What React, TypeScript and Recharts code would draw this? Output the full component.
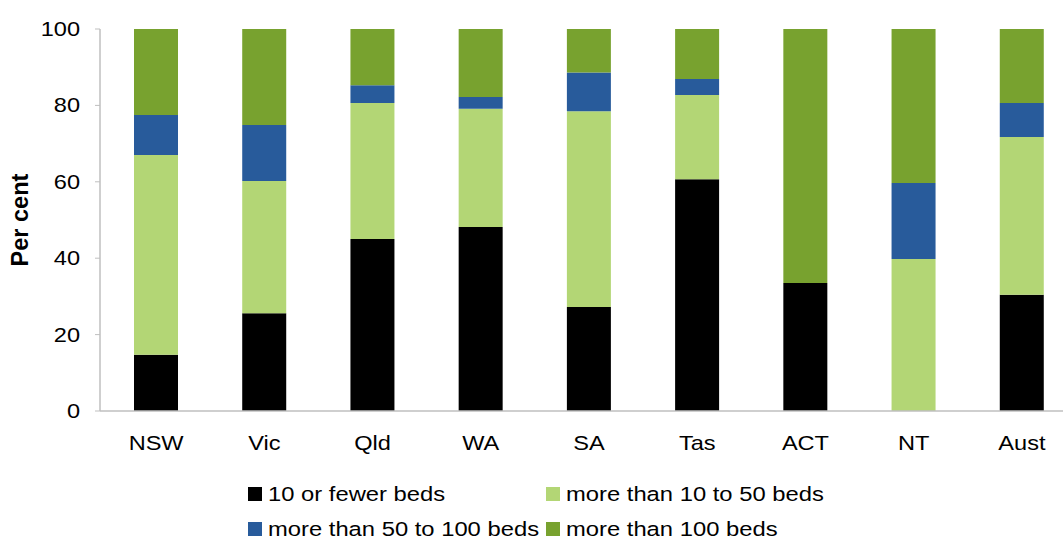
import { BarChart, Bar, XAxis, YAxis, Legend } from 'recharts'

const states = ['NSW', 'Vic', 'Qld', 'WA', 'SA', 'Tas', 'ACT', 'NT', 'Aust']
const tenOrFewer = [14.7, 25.6, 45.0, 48.2, 27.2, 60.7, 33.5, 0, 30.4]
const tenTo50 = [52.3, 34.6, 35.6, 30.9, 51.3, 22.0, 0, 39.8, 41.3]
const fiftyTo100 = [10.5, 14.7, 4.7, 3.1, 10.1, 4.2, 0, 19.9, 8.9]
const over100 = [22.5, 25.1, 14.7, 17.8, 11.4, 13.1, 66.5, 40.3, 19.4]
const yTicks = [0, 20, 40, 60, 80, 100]

const series = [
  { key: 'a', name: '10 or fewer beds', color: '#000000' },
  { key: 'b', name: 'more than 10 to 50 beds', color: '#B3D675' },
  { key: 'c', name: 'more than 50 to 100 beds', color: '#285B9B' },
  { key: 'd', name: 'more than 100 beds', color: '#78A22F' },
]

const data = states.map((s, i) => ({
  state: s,
  a: tenOrFewer[i],
  b: tenTo50[i],
  c: fiftyTo100[i],
  d: over100[i],
}))

const font = '"Liberation Sans", Arial, sans-serif'

// text in the source is a bit wider than Arial, stretch it slightly
const XTick = ({ x, y, payload }: any) => (
  <text transform={`translate(${x} ${y}) scale(1.15 1)`} textAnchor="middle"
    fontFamily={font} fontSize={20.5} fill="#000">
    {payload.value}
  </text>
)

const YTick = ({ x, y, payload }: any) => (
  <text transform={`translate(${x} ${y}) scale(1.15 1)`} textAnchor="end" dy={7}
    fontFamily={font} fontSize={20.5} fill="#000">
    {payload.value}
  </text>
)

const LegendItem = ({ name, color }: { name: string; color: string }) => (
  <div style={{ display: 'flex', alignItems: 'center', width: 298, whiteSpace: 'nowrap' }}>
    <span style={{ display: 'inline-block', width: 14, height: 14, background: color, marginRight: 6 }} />
    <span style={{ display: 'inline-block', transform: 'scaleX(1.16)', transformOrigin: 'left center' }}>{name}</span>
  </div>
)

const CustomLegend = () => (
  <div style={{ fontFamily: font, fontSize: 20.5, color: '#000', paddingLeft: 248, paddingTop: 28, height: 93, boxSizing: 'border-box' }}>
    <div style={{ display: 'flex', height: 30 }}>
      <LegendItem name={series[0].name} color={series[0].color} />
      <LegendItem name={series[1].name} color={series[1].color} />
    </div>
    <div style={{ display: 'flex', height: 30, marginTop: 5 }}>
      <LegendItem name={series[2].name} color={series[2].color} />
      <LegendItem name={series[3].name} color={series[3].color} />
    </div>
  </div>
)

const YLabel = ({ viewBox }: any) => {
  const x = viewBox.x + 19.5
  const y = viewBox.y + viewBox.height / 2
  return (
    <text x={x} y={y} transform={`rotate(-90 ${x} ${y})`} textAnchor="middle" dominantBaseline="central"
      fontFamily={font} fontSize={23.5} fontWeight="bold" fill="#000">
      Per cent
    </text>
  )
}

export default function App() {
  return (
    <div style={{ position: 'absolute', left: 0, top: 0, width: 1063, height: 544, overflow: 'hidden', background: '#fff' }}>
      <BarChart width={1076} height={544} data={data} margin={{ top: 29, right: 0, left: 0, bottom: 0 }} barSize={44}>
        <XAxis
          dataKey="state"
          height={40}
          padding={{ left: 2, right: 0 }}
          tick={<XTick />}
          tickLine={false}
          tickSize={0}
          tickMargin={39}
          axisLine={{ stroke: '#BFBFBF', strokeWidth: 1.5 }}
        />
        <YAxis
          width={100}
          domain={[0, 100]}
          ticks={yTicks}
          interval={0}
          tick={<YTick />}
          tickLine={{ stroke: '#BFBFBF' }}
          tickSize={5}
          tickMargin={15}
          axisLine={{ stroke: '#BFBFBF', strokeWidth: 1.5 }}
          label={<YLabel />}
        />
        <Legend verticalAlign="bottom" height={93} content={<CustomLegend />} />
        {series.map(s => (
          <Bar key={s.key} dataKey={s.key} name={s.name} stackId="x" fill={s.color} isAnimationActive={false} />
        ))}
      </BarChart>
    </div>
  )
}
